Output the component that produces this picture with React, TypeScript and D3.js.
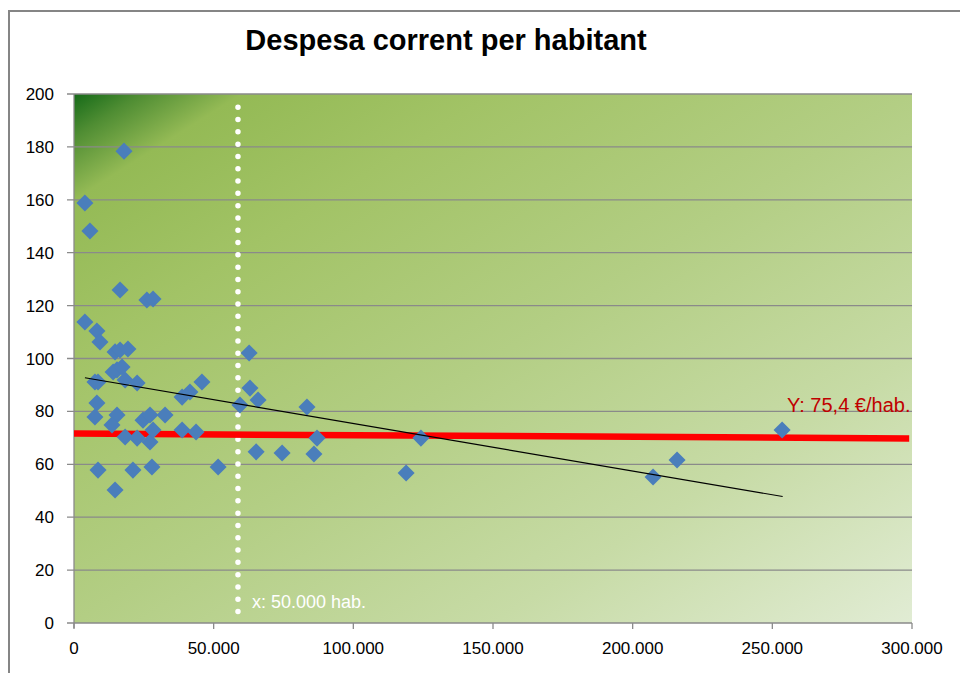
import React from "react";
import * as d3 from "d3";

const TITLE = "Despesa corrent per habitant";
const xTicks = [0, 50000, 100000, 150000, 200000, 250000, 300000];
const yTicks = [0, 20, 40, 60, 80, 100, 120, 140, 160, 180, 200];

// population (hab.)
const popValues = [
  3900, 5700, 17900, 3900, 8200, 9300, 16500, 26100, 28300, 14700, 16500, 19300,
  14000, 15400, 17200, 7500, 8600, 18300, 22600, 8200, 7500, 15400, 13600, 18300,
  22600, 24700, 27200, 27200, 28300, 32600, 38700, 41500, 45800, 38700, 43700,
  8600, 21100, 27900, 14700, 51600, 62700, 59400, 63000, 65900, 65200, 74500,
  83400, 87000, 85900, 118900, 124200, 207300, 215900, 253500,
];
// current spending per inhabitant (€/hab.)
const spendValues = [
  158.8, 148.2, 178.4, 113.8, 110.4, 106.2, 125.9, 122.1, 122.5, 102.5, 103.2, 103.6,
  94.9, 95.7, 96.8, 91.1, 91.1, 91.9, 90.7, 83.2, 77.9, 78.6, 74.9, 70.3,
  69.9, 76.7, 78.6, 68.4, 73.0, 78.6, 85.4, 87.3, 91.1, 73.0, 72.2,
  57.8, 57.8, 59.0, 50.3, 59.0, 102.1, 82.4, 88.8, 84.3, 64.7, 64.3,
  81.7, 69.9, 63.9, 56.7, 69.9, 55.2, 61.6, 73.0,
];

const trendX = [3900, 253700];
const trendY = [92.7, 47.8];
const avgX = [0, 299000];
const avgY = [71.6, 69.8];
const markerX = 58700;
const markerYRange = [195, 4];

const avgLabel = "Y: 75,4 €/hab.";
const markerLabel = "x: 50.000 hab.";

const locale = d3.formatLocale({ decimal: ",", thousands: ".", grouping: [3], currency: ["", "€"] });
const fmt = locale.format(",");

export default function App() {
  const x = d3.scaleLinear().domain([0, 300000]).range([74, 912]);
  const y = d3.scaleLinear().domain([0, 200]).range([623, 94]);
  const line = d3.line<[number, number]>().x((d) => x(d[0])).y((d) => y(d[1]));
  const font = "'Liberation Sans', Arial, sans-serif";
  const pts = popValues.map((v, i) => [v, spendValues[i]] as [number, number]);
  const diamond = d3.symbol().type(d3.symbolDiamond2).size(185)();
  return (
    <svg width={960} height={673} style={{ position: "absolute", left: 0, top: 0 }} fontFamily={font}>
      <defs>
        <linearGradient id="bg" x1={0} y1={0} x2={1} y2={1}>
          <stop offset="0" stopColor="#156a18" />
          <stop offset="0.04" stopColor="#4f8d33" />
          <stop offset="0.1" stopColor="#94ba55" />
          <stop offset="0.25" stopColor="#a2c366" />
          <stop offset="0.5" stopColor="#b3ce84" />
          <stop offset="0.75" stopColor="#c7dba6" />
          <stop offset="1" stopColor="#e1ecd4" />
        </linearGradient>
      </defs>
      <rect x={0} y={0} width={960} height={673} fill="#fff" />
      <rect x={9} y={11} width={1000} height={700} fill="none" stroke="#858585" strokeWidth={2} />
      <text x={446} y={50} textAnchor="middle" fontSize={29} fontWeight="bold" fill="#000">{TITLE}</text>
      <rect x={x(0)} y={y(200)} width={x(300000) - x(0)} height={y(0) - y(200)} fill="url(#bg)" />
      {yTicks.map((t) => (
        <g key={t}>
          <line x1={67} x2={x(300000)} y1={y(t)} y2={y(t)} stroke="#8a8a8a" strokeWidth={1.3} />
          <text x={54} y={y(t) + 6} textAnchor="end" fontSize={17} fill="#000">{t}</text>
        </g>
      ))}
      <line x1={x(0)} x2={x(0)} y1={y(200)} y2={y(0) + 5} stroke="#8a8a8a" strokeWidth={1.3} />
      {xTicks.map((t) => (
        <g key={t}>
          <line x1={x(t)} x2={x(t)} y1={y(0)} y2={y(0) + 6} stroke="#8a8a8a" strokeWidth={1.3} />
          <text x={x(t)} y={654} textAnchor="middle" fontSize={17} fill="#000">{fmt(t)}</text>
        </g>
      ))}
      <line
        x1={x(markerX)} x2={x(markerX)} y1={y(markerYRange[0])} y2={y(markerYRange[1])}
        stroke="#fff" strokeWidth={5.5} strokeLinecap="round" strokeDasharray="0 12.3"
      />
      <text x={252} y={608} fontSize={18} fill="#fff">{markerLabel}</text>
      <path d={line(avgX.map((v, i) => [v, avgY[i]] as [number, number])) || ""} stroke="#ff0000" strokeWidth={6.5} fill="none" />
      {pts.map((p, i) => (
        <path key={i} d={diamond || ""} transform={`translate(${x(p[0])},${y(p[1])})`} fill="#4a7ebb" />
      ))}
      <path d={line(trendX.map((v, i) => [v, trendY[i]] as [number, number])) || ""} stroke="#000" strokeWidth={1.1} fill="none" />
      <text x={787} y={412} fontSize={20} fill="#c00000">{avgLabel}</text>
    </svg>
  );
}
